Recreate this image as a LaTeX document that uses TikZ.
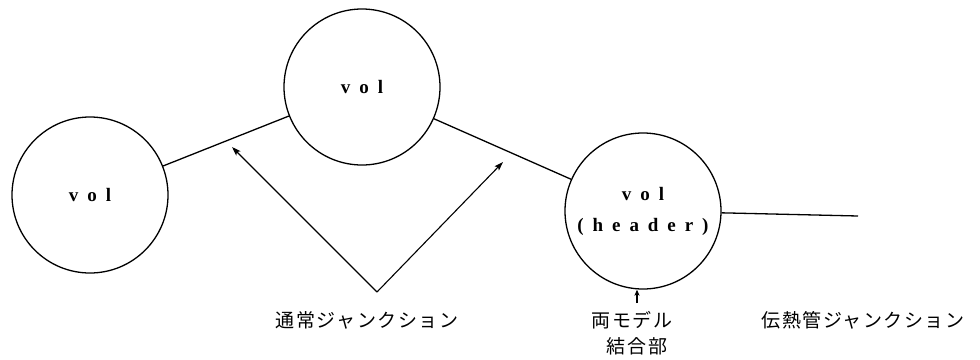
\documentclass[tikz,border=0pt]{standalone}
\usepackage{fontspec}
\usetikzlibrary{arrows.meta}
\newfontfamily\cjk[LetterSpace=8]{Noto Sans CJK JP}
\newfontfamily\volfont[LetterSpace=47]{Liberation Serif Bold}
\begin{document}
\begin{tikzpicture}[x=1pt,y=-1pt,
  vol/.style={draw,circle,line width=1.3pt,minimum size=156pt,inner sep=0pt,align=center,
    font=\volfont\fontsize{19}{31}\selectfont},
  conn/.style={line width=1.3pt},
  ptr/.style={line width=1.1pt,-{Stealth[length=9pt,width=6pt,inset=2pt]}},
  ptrs/.style={line width=1.1pt,-{Stealth[length=6pt,width=5pt,inset=1.5pt]}},
  lbl/.style={font=\cjk\fontsize{19}{26}\selectfont,inner sep=0pt,align=center}]
\useasboundingbox (0,0) rectangle (980,359);
\node[vol] (A) at (90,195) {vol};
\node[vol] (B) at (362,87) {vol};
\node[vol] (C) at (643,211) {vol\\(header)};
\coordinate (E) at (858,216);
\draw[conn] (A) -- (B);
\draw[conn] (B) -- (C);
\draw[conn] (C) -- (E);
\coordinate (V) at (377,292);
\coordinate (T1) at (232,147);
\coordinate (T2) at (503,162);
\draw[ptr] (V) -- (T1);
\draw[ptr] (V) -- (T2);
\coordinate (S) at (637,303);
\draw[ptrs] (S) -- (S |- C.south);
\node[lbl] (L1) at (367,320) {通常ジャンクション};
\node[lbl] (L2) at (632,320) {両モデル};
\node[lbl] (L3) at (637,346) {結合部};
\node[lbl] (L4) at (863,320) {伝熱管ジャンクション};
\end{tikzpicture}
\end{document}
